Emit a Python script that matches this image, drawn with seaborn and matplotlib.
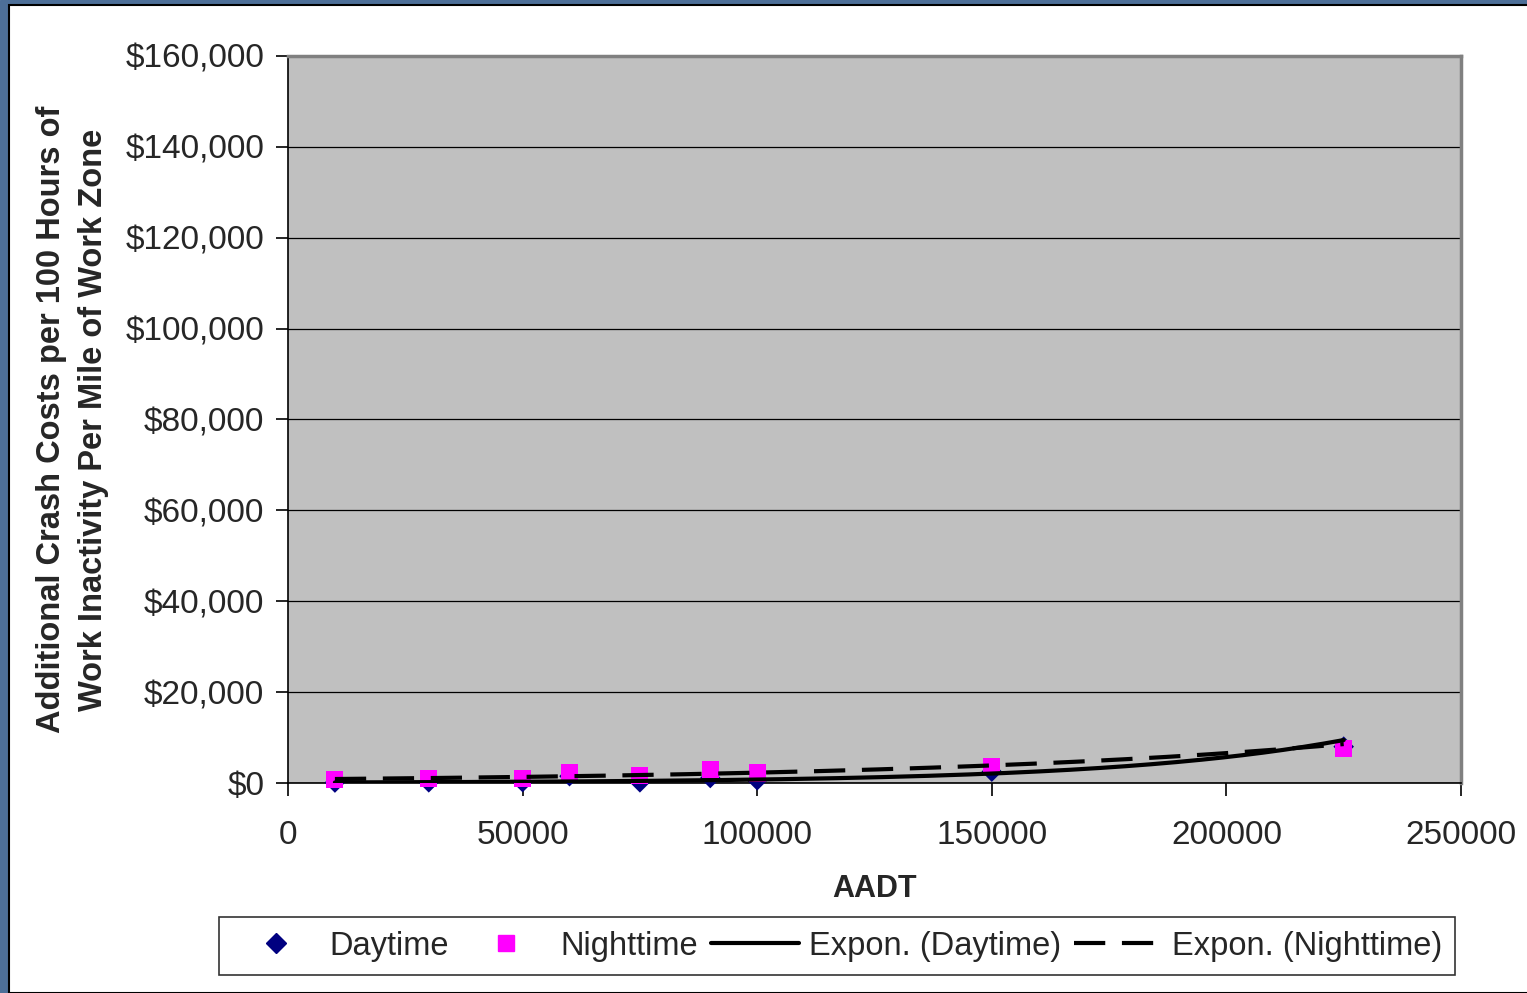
import matplotlib
matplotlib.use("Agg")
import matplotlib.pyplot as plt
from matplotlib.patches import Rectangle
from matplotlib.lines import Line2D
import seaborn as sns
import pandas as pd
import numpy as np

sns.set_style("white")
plt.rcParams['font.family'] = ['Liberation Sans', 'DejaVu Sans']

# values
aadt = [10000, 30000, 50000, 60000, 75000, 90000, 100000, 150000, 225000]
daytime = [100, 150, 200, 1500, 150, 1100, 600, 2500, 8000]
nighttime = [700, 1000, 1000, 2400, 1700, 3000, 2200, 3600, 7600]
y_ticks = [0, 20000, 40000, 60000, 80000, 100000, 120000, 140000, 160000]
x_ticks = [0, 50000, 100000, 150000, 200000, 250000]

df = pd.DataFrame({"AADT": aadt, "Daytime": daytime, "Nighttime": nighttime})


def expon_fit(x, y):
    # same as an Excel exponential trendline: straight line through log(y)
    b, ln_a = np.polyfit(x, np.log(y), 1)
    xs = np.linspace(min(x), max(x), 200)
    return pd.DataFrame({"x": xs, "y": np.exp(ln_a) * np.exp(b * xs)})


fit_day = expon_fit(df.AADT, df.Daytime)
fit_night = expon_fit(df.AADT, df.Nighttime)

W, H = 1527, 993
fig = plt.figure(figsize=(W / 100, H / 100), dpi=100)

# slide background strip and white chart area
fig.patches.append(Rectangle((0, 0), 1, 1, transform=fig.transFigure, color="#4d6f98", zorder=-3))
fig.patches.append(Rectangle((9 / W, 0), 1, 1 - 5 / H, transform=fig.transFigure,
                             facecolor="white", edgecolor="black", linewidth=1.5, zorder=-2))

ax = fig.add_axes([288 / W, 1 - 783 / H, (1461 - 288) / W, (783 - 56) / H])
ax.set_facecolor("#c0c0c0")

dash = (0, (7.5, 4))
sns.scatterplot(data=df, x="AADT", y="Daytime", marker="D", s=110, color="#000080",
                edgecolor="none", ax=ax, zorder=3, clip_on=False)
sns.scatterplot(data=df, x="AADT", y="Nighttime", marker="s", s=150, color="#ff00ff",
                edgecolor="none", ax=ax, zorder=4, clip_on=False)
sns.lineplot(data=fit_day, x="x", y="y", color="black", linewidth=3, ax=ax, zorder=5)
sns.lineplot(data=fit_night, x="x", y="y", color="black", linewidth=3, ax=ax, zorder=6,
             linestyle=dash)

ax.set_xlim(0, 250000)
ax.set_ylim(0, 160000)
ax.set_xticks(x_ticks)
ax.set_xticklabels([str(t) for t in x_ticks])
ax.set_yticks(y_ticks)
ax.set_yticklabels(["${:,}".format(t) for t in y_ticks])
ax.yaxis.grid(True, color="black", linewidth=0.9)
ax.set_axisbelow(True)
ax.tick_params(axis="both", labelsize=24, direction="out", length=9, width=1.2,
               color="black", bottom=True, left=True)
ax.tick_params(axis="x", pad=18)
ax.tick_params(axis="y", pad=8)

for side in ["top", "right"]:
    ax.spines[side].set_color("#808080")
    ax.spines[side].set_linewidth(2.5)
for side in ["left", "bottom"]:
    ax.spines[side].set_color("black")
    ax.spines[side].set_linewidth(1.2)

ax.set_xlabel("AADT", fontsize=22, fontweight="bold", labelpad=16)
ax.set_ylabel("Additional Crash Costs per 100 Hours of\nWork Inactivity Per Mile of Work Zone",
              fontsize=23.5, fontweight="bold", labelpad=12, linespacing=1.45)

handles = [
    Line2D([], [], marker="D", linestyle="none", color="#000080", markersize=10),
    Line2D([], [], marker="s", linestyle="none", color="#ff00ff", markersize=11),
    Line2D([], [], color="black", linewidth=3),
    Line2D([], [], color="black", linewidth=3, linestyle=dash),
]
labels = ["Daytime", "Nighttime", "Expon. (Daytime)", "Expon. (Nighttime)"]
leg = fig.legend(handles, labels, loc="center", bbox_to_anchor=((220 + 1454) / 2 / W, 1 - 946 / H),
                 ncol=4, fontsize=23.5, frameon=True, fancybox=False, edgecolor="black",
                 handlelength=2.7, handletextpad=0.3, columnspacing=0.4, borderpad=0.4)
leg.get_frame().set_linewidth(1.2)

fig.savefig("out.png", dpi=100)
